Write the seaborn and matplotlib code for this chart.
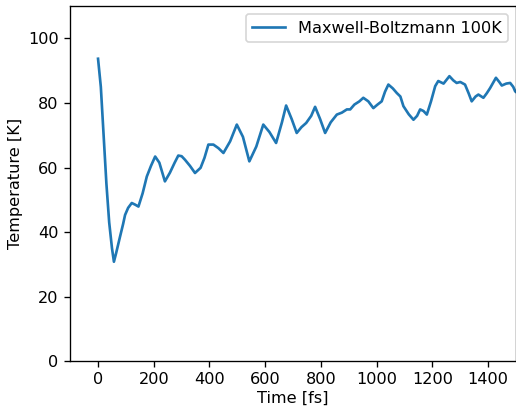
import matplotlib
matplotlib.use("Agg")
import matplotlib.pyplot as plt
import pandas as pd
import seaborn as sns

# values
time_fs = [0, 10, 20, 30, 40, 50, 57, 65, 79, 90, 97, 108, 121, 133, 145, 160, 175,
           190, 205, 220, 240, 258, 275, 288, 300, 312, 330, 348, 368, 382, 396,
           414, 432, 450, 474, 498, 520, 543, 568, 593, 615, 639, 660, 675, 695,
           713, 730, 747, 765, 779, 797, 815, 835, 857, 875, 893, 905, 920, 938,
           952, 970, 988, 1003, 1018, 1030, 1042, 1058, 1072, 1085, 1096, 1115,
           1132, 1145, 1156, 1168, 1180, 1195, 1210, 1221, 1240, 1261, 1275, 1287,
           1300, 1317, 1330, 1341, 1355, 1365, 1383, 1395, 1407, 1428, 1440, 1449,
           1465, 1479, 1490, 1497, 1500]
temperature_K = [93.7, 85.0, 70.0, 55.0, 43.0, 35.0, 30.8, 33.5, 38.6, 42.5, 45.3, 47.5,
                 49.0, 48.5, 47.9, 52.0, 57.2, 60.5, 63.4, 61.5, 55.7, 58.4, 61.5,
                 63.7, 63.5, 62.4, 60.5, 58.3, 59.9, 63.0, 67.1, 67.1, 66.0, 64.5,
                 68.1, 73.3, 69.5, 61.9, 66.5, 73.3, 71.0, 67.6, 74.0, 79.2, 75.0,
                 70.7, 72.5, 73.8, 76.0, 78.8, 75.0, 70.7, 74.0, 76.4, 77.0, 78.0,
                 78.0, 79.5, 80.5, 81.6, 80.5, 78.4, 79.5, 80.5, 83.5, 85.7, 84.5,
                 83.1, 82.0, 79.0, 76.5, 74.8, 76.0, 78.0, 77.5, 76.4, 80.5, 85.2,
                 86.8, 86.0, 88.3, 87.0, 86.2, 86.5, 85.7, 83.0, 80.5, 82.0, 82.6,
                 81.6, 83.0, 84.6, 87.8, 86.5, 85.4, 86.0, 86.2, 85.0, 83.6, 83.4]
series_label = "Maxwell-Boltzmann 100K"

df = pd.DataFrame({"Time [fs]": time_fs, "Temperature [K]": temperature_K})

plt.rcParams["font.family"] = ["DejaVu Sans"]
plt.rcParams["font.size"] = 9.7
fig, ax = plt.subplots(figsize=(516 / 120, 409 / 120), dpi=120)
fig.subplots_adjust(left=0.136, right=1.0, top=0.985, bottom=0.117)

sns.lineplot(data=df, x="Time [fs]", y="Temperature [K]", ax=ax,
             color="#1f77b4", linewidth=1.6, label=series_label)

ax.set_xlim(-100, 1500)
ax.set_ylim(0, 110)
ax.set_xticks([0, 200, 400, 600, 800, 1000, 1200, 1400])
ax.set_yticks([0, 20, 40, 60, 80, 100])
ax.tick_params(axis="x", pad=3)
ax.set_xlabel("Time [fs]", labelpad=2.5)
ax.set_ylabel("Temperature [K]", labelpad=3)
ax.legend(loc="upper right", fontsize=9.7)

fig.savefig("out.png", dpi=120)
